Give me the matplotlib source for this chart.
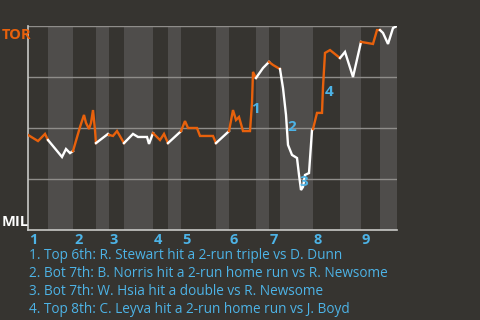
"""
Win probability chart: TOR @ MIL.

Line is orange while TOR bats (top halves), white while MIL bats.
"""

import matplotlib

matplotlib.use("Agg")
import matplotlib.pyplot as plt

# x is game progress (event position), y is TOR win probability in percent
game_pos = [
    0, 10, 17, 20,
    20, 34, 38, 42, 45,
    45, 52, 56, 58, 61, 63, 65, 67, 68,
    68, 80, 81,
    81, 85, 89, 96,
    96, 105, 110, 119, 121, 125,
    125, 132, 136, 140,
    140, 152, 153,
    153, 157, 160, 169, 172, 185, 188,
    188, 200, 201,
    201, 205, 208, 211, 215, 222, 224, 225, 228,
    228, 235, 241,
    241, 245, 252,
    252, 255, 258, 260, 264, 269, 271, 273, 275, 277, 281, 284, 285,
    285, 289, 294, 295, 297, 302, 312,
    312, 317, 325, 333,
    333, 339, 345, 349, 352,
    352, 355, 360, 365, 369,
]
tor_wp = [
    46.6, 43.6, 47.1, 44.1,
    44.1, 35.8, 39.7, 37.7, 38.7,
    38.7, 50.5, 56.4, 52.5, 49.5, 52.5, 58.8, 49.0, 42.6,
    42.6, 47.1, 46.6,
    46.6, 46.1, 48.5, 42.6,
    42.6, 47.1, 45.6, 45.6, 42.2, 47.5,
    47.5, 44.1, 47.1, 42.6,
    42.6, 48.0, 48.5,
    48.5, 53.4, 50.0, 50.0, 46.1, 46.1, 42.6,
    42.6, 48.0, 48.5,
    48.5, 58.8, 53.9, 55.4, 48.5, 48.5, 62.3, 77.5, 74.5,
    74.5, 79.4, 82.4,
    82.4, 80.9, 78.9,
    78.9, 69.6, 56.4, 41.7, 36.8, 35.3, 27.0, 19.6, 21.1, 27.0, 27.9, 49.0, 49.5,
    49.5, 57.4, 57.4, 70.1, 86.8, 88.2, 84.3,
    84.3, 87.3, 75.0, 92.2,
    92.2, 91.7, 91.2, 98.0, 98.0,
    98.0, 96.6, 91.2, 99.0, 100.0,
]
# half-inning boundaries (top 1, bot 1, top 2, ...)
half_edges = [0, 20, 45, 68, 81, 96, 125, 140, 153, 188, 201, 228, 241, 252,
              285, 312, 333, 352, 369]
inning_labels = ["1", "2", "3", "4", "5", "6", "7", "8", "9"]

# key plays: (label, position, win prob)
play_labels = ["1", "2", "3", "4"]
play_pos = [228, 264, 275.5, 301]
play_wp = [59.5, 50.5, 23.5, 67.5]
play_notes = [
    "1. Top 6th: R. Stewart hit a 2-run triple vs D. Dunn",
    "2. Bot 7th: B. Norris hit a 2-run home run vs R. Newsome",
    "3. Bot 7th: W. Hsia hit a double vs R. Newsome",
    "4. Top 8th: C. Leyva hit a 2-run home run vs J. Boyd",
]

BG = "#363430"
BAND = "#4f4d4b"
ORANGE = "#e8610c"
BLUE = "#4db3e6"
FONT = "Open Sans"

W, H = 480, 320
fig = plt.figure(figsize=(W / 100, H / 100), dpi=100, facecolor=BG)
ax = fig.add_axes([28 / W, 1 - 230 / H, 369 / W, 204 / H])
ax.set_facecolor(BG)
ax.set_xlim(half_edges[0], half_edges[-1])
ax.set_ylim(0, 100)

# shade bottom halves
for i in range(1, len(half_edges) - 1, 2):
    ax.axvspan(half_edges[i], half_edges[i + 1], color=BAND, lw=0, zorder=0)

for yv in [25, 50, 75, 100]:
    ax.axhline(yv, color="#8f8d8a", lw=1, zorder=1)

# draw line by half inning
i = 0
while i < len(game_pos) - 1:
    j = i
    while j + 1 < len(game_pos) and not (game_pos[j + 1] == game_pos[j] and j > i):
        j += 1
    half = 0
    for k in range(len(half_edges) - 1):
        if half_edges[k] <= game_pos[i] < half_edges[k + 1]:
            half = k
    color = ORANGE if half % 2 == 0 else "white"
    ax.plot(game_pos[i:j + 1], tor_wp[i:j + 1], color=color, lw=1.7,
            solid_joinstyle="miter", zorder=3)
    i = j + 1

for lab, px, wp in zip(play_labels, play_pos, play_wp):
    ax.text(px, wp, lab, color=BLUE, fontsize=11, fontweight="bold",
            family=FONT, ha="center", va="center", zorder=4)

for s in ["top", "right"]:
    ax.spines[s].set_visible(False)
for s in ["left", "bottom"]:
    ax.spines[s].set_color("#c8c8c6")
    ax.spines[s].set_linewidth(1.2)
ax.set_xticks([])
ax.set_yticks([])

# inning numbers under the axis at the start of each top half
for k, lab in enumerate(inning_labels):
    ax.text(half_edges[2 * k] + 1, -1.5, lab, color=BLUE, fontsize=10.5,
            fontweight="bold", family=FONT, ha="left", va="top")

fig.text(2 / W, 1 - 39 / H, "TOR", color=ORANGE, fontsize=10.5,
         fontweight="bold", family=FONT, ha="left", va="baseline")
fig.text(2 / W, 1 - 226 / H, "MIL", color="white", fontsize=10.5,
         fontweight="bold", family=FONT, ha="left", va="baseline")

for k, note in enumerate(play_notes):
    fig.text(29 / W, 1 - (259 + 18 * k) / H, note, color=BLUE, fontsize=9.8,
             family=FONT, ha="left", va="baseline")

fig.savefig("out.png", dpi=100, facecolor=BG)
